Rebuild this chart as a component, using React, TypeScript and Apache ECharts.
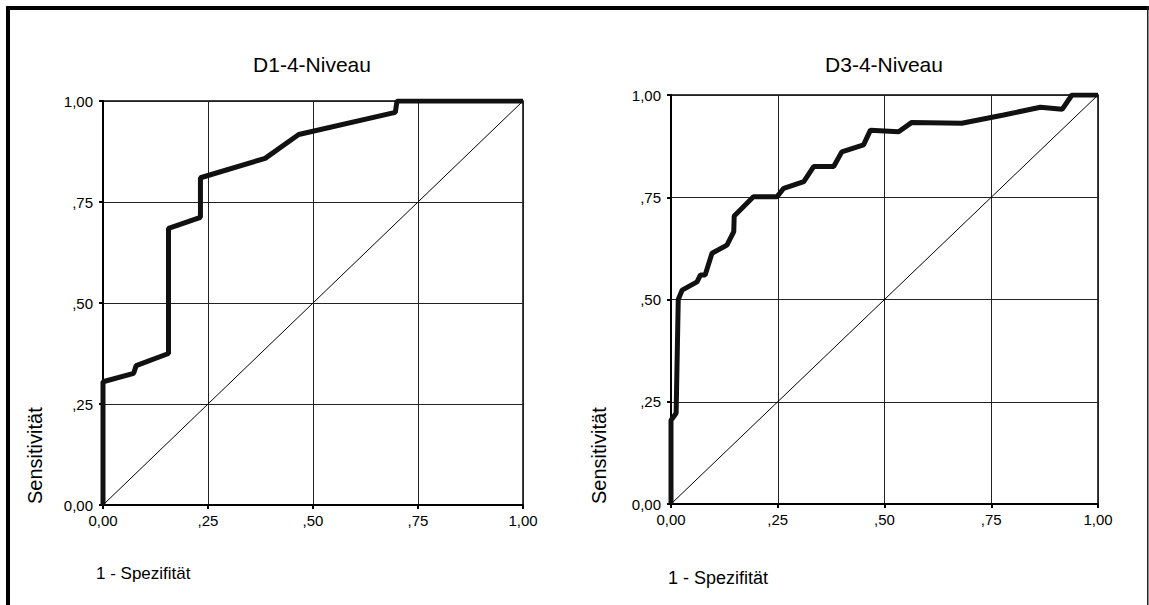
import React, { useEffect, useRef } from "react";
import * as echarts from "echarts";

const titles = ["D1-4-Niveau", "D3-4-Niveau"];
const yAxisTitle = "Sensitivität";
const xAxisTitle = "1 - Spezifität";
const tickLabels = ["0,00", ",25", ",50", ",75", "1,00"];

// ROC curve D1-4-Niveau: [1 - Spezifität, Sensitivität]
const rocD1: [number, number][] = [
  [0, 0], [0, 0.305], [0.073, 0.326], [0.079, 0.345], [0.156, 0.375],
  [0.156, 0.685], [0.232, 0.712], [0.232, 0.81], [0.386, 0.858],
  [0.466, 0.917], [0.696, 0.972], [0.7, 1.0], [1, 1],
];

// ROC curve D3-4-Niveau
const rocD3: [number, number][] = [
  [0, 0], [0, 0.205], [0.012, 0.222], [0.017, 0.5], [0.026, 0.523],
  [0.061, 0.543], [0.069, 0.56], [0.08, 0.56], [0.096, 0.613],
  [0.131, 0.633], [0.147, 0.666], [0.148, 0.704], [0.193, 0.751],
  [0.248, 0.751], [0.264, 0.772], [0.311, 0.788], [0.334, 0.825],
  [0.381, 0.825], [0.4, 0.861], [0.451, 0.878], [0.467, 0.914],
  [0.533, 0.91], [0.564, 0.933], [0.681, 0.931], [0.779, 0.951],
  [0.865, 0.97], [0.916, 0.965], [0.939, 1.0], [1, 1],
];

const diagonal: [number, number][] = [[0, 0], [1, 1]];

const FONT = "'Liberation Sans', Arial, sans-serif";

export default function App() {
  const ref = useRef<HTMLDivElement>(null);
  useEffect(() => {
    if (!ref.current) return;
    const chart = echarts.init(ref.current, undefined, { renderer: "svg" });
    const fmt = (v: number) => tickLabels[Math.round(v / 0.25)] ?? "";
    const axisCommon = {
      type: "value",
      min: 0,
      max: 1,
      interval: 0.25,
      axisLine: { show: true, onZero: false, lineStyle: { color: "#000", width: 2 } },
      axisTick: { show: true, length: 4, lineStyle: { color: "#000", width: 2 } },
      splitLine: { show: true, lineStyle: { color: "#222", width: 1 } },
    };
    const xAxis = (gi: number) => ({
      ...axisCommon,
      gridIndex: gi,
      axisLabel: { formatter: fmt, color: "#000", fontSize: 15, fontFamily: FONT, margin: 8 },
    });
    const yAxis = (gi: number) => ({
      ...axisCommon,
      gridIndex: gi,
      axisLabel: { formatter: fmt, color: "#000", fontSize: 15, fontFamily: FONT, margin: 10 },
    });
    const rocLine = (data: [number, number][], i: number) => ({
      type: "line",
      xAxisIndex: i,
      yAxisIndex: i,
      data,
      showSymbol: false,
      symbol: "none",
      lineStyle: { color: "#111", width: 5 },
      silent: true,
    });
    const diagLine = (i: number) => ({
      type: "line",
      xAxisIndex: i,
      yAxisIndex: i,
      data: diagonal,
      showSymbol: false,
      symbol: "none",
      lineStyle: { color: "#000", width: 1 },
      silent: true,
    });
    const textEl = (text: string, x: number, y: number, size: number, rot = 0) => ({
      type: "text",
      x,
      y,
      rotation: rot,
      style: {
        text,
        fill: "#000",
        font: `${size}px ${FONT}`,
        textAlign: "left",
        textVerticalAlign: "middle",
      },
    });
    chart.setOption({
      animation: false,
      backgroundColor: "#fff",
      title: [
        {
          text: titles[0],
          left: 312,
          top: 54,
          textAlign: "center",
          padding: 0,
          textStyle: { color: "#000", fontSize: 21, fontWeight: "normal", fontFamily: FONT },
        },
        {
          text: titles[1],
          left: 884,
          top: 54,
          textAlign: "center",
          padding: 0,
          textStyle: { color: "#000", fontSize: 21, fontWeight: "normal", fontFamily: FONT },
        },
      ],
      grid: [
        { left: 103, top: 101, width: 420, height: 404, show: true, borderColor: "#000", borderWidth: 1.5, backgroundColor: "transparent" },
        { left: 671, top: 95, width: 427, height: 409, show: true, borderColor: "#000", borderWidth: 1.5, backgroundColor: "transparent" },
      ],
      xAxis: [xAxis(0), xAxis(1)],
      yAxis: [yAxis(0), yAxis(1)],
      series: [diagLine(0), rocLine(rocD1, 0), diagLine(1), rocLine(rocD3, 1)],
      graphic: [
        { type: "rect", shape: { x: 6, y: 6, width: 1143, height: 4 }, style: { fill: "#000" } },
        { type: "rect", shape: { x: 6, y: 6, width: 4, height: 599 }, style: { fill: "#000" } },
        { type: "rect", shape: { x: 1147, y: 6, width: 1.5, height: 599 }, style: { fill: "#222" } },
        textEl(yAxisTitle, 35, 504, 20, Math.PI / 2),
        textEl(yAxisTitle, 599, 504, 20, Math.PI / 2),
        textEl(xAxisTitle, 96, 573, 17),
        textEl(xAxisTitle, 668, 578, 18),
      ],
    });
    return () => chart.dispose();
  }, []);
  return (
    <div
      ref={ref}
      style={{ position: "absolute", left: 0, top: 0, width: 1149, height: 605 }}
    />
  );
}
